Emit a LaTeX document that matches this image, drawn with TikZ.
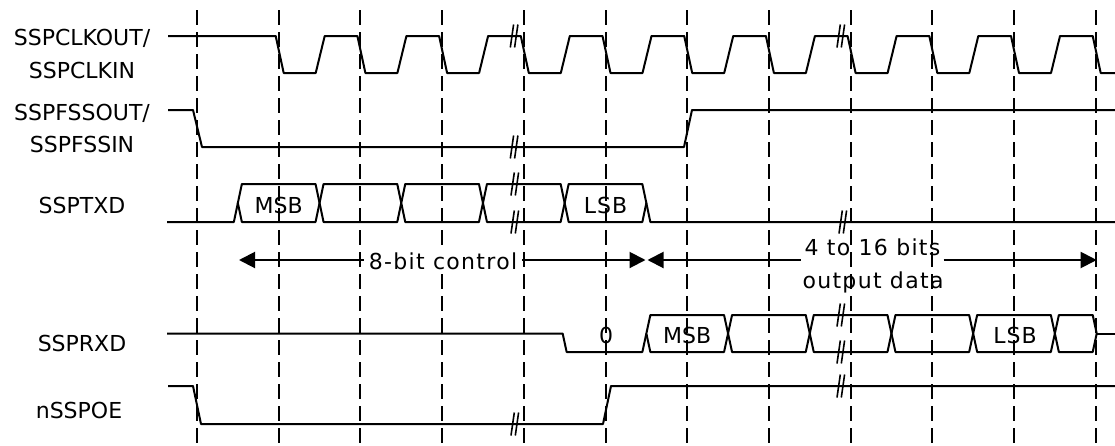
\documentclass[tikz,border=0pt]{standalone}
\usepackage{fontspec}
\setmainfont{DejaVu Sans}
\usetikzlibrary{arrows.meta}
\newcommand\brkmk[2]{%
  \draw[brk] ({#1-4},{#2+11.5}) -- ({#1-0.7},{#2-11.5});
  \draw[brk] ({#1+0.3},{#2+11.5}) -- ({#1+3.6},{#2-11.5});}
\newcommand\hexbox[4]{% left, right, top, bottom
  \draw[sig] ({#1},{(#3+#4)/2}) -- ({#1+4},#3) -- ({#2-4},#3) -- ({#2},{(#3+#4)/2})
    -- ({#2-4},#4) -- ({#1+4},#4) -- cycle;}
\begin{document}
\begin{tikzpicture}[x=1pt,y=-1pt,
  sig/.style={line width=2pt, line join=round},
  vdash/.style={line width=2pt, dash pattern=on 15pt off 7pt},
  brk/.style={line width=1.6pt},
  lbl/.style={font=\fontsize{22}{26}\selectfont, anchor=base, inner sep=0pt},
  wide/.style={font=\fontsize{22}{26}\selectfont\addfontfeature{LetterSpace=6}},
  arrline/.style={line width=2pt},
  >={Triangle[length=16pt,width=16pt]}
]
\useasboundingbox (0,0) rectangle (1115,445);
\fill[white] (0,0) rectangle (1115,445);

% dashed time lines
\foreach \k in {0,...,11}
  \draw[vdash] ({197+81.7*\k},10) -- ({197+81.7*\k},445);

% labels
\node[lbl] (lclk1) at (82,45) {SSPCLKOUT/};
\node[lbl] (lclk2) at (82,78.3) {SSPCLKIN};
\node[lbl] (lfss1) at (82,120) {SSPFSSOUT/};
\node[lbl] (lfss2) at (82,152) {SSPFSSIN};
\node[lbl] (ltxd) at (82,213.3) {SSPTXD};
\node[lbl] (lrxd) at (82,351.7) {SSPRXD};
\node[lbl] (loe) at (79,418.3) {nSSPOE};

% clock
\draw[sig] (168,36) -- ({197+81.7-3},36)
  foreach \k in {1,...,10}{
    -- ({197+81.7*\k+5},73) -- ({197+81.7*\k+37},73)
    -- ({197+81.7*\k+46},36) -- ({197+81.7*(\k+1)-3},36)}
  -- ({197+81.7*11+5},73) -- (1115,73);

% frame sync
\draw[sig] (168,110) -- (193,110) -- (202,147) -- (684,147) -- (692,110) -- (1115,110);

% TXD
\draw[sig] (167,222) -- (233.85,222) -- (237.85,203);
\foreach \i in {0,...,4}{\hexbox{237.85+81.7*\i}{237.85+81.7*(\i+1)}{184}{222}}
\draw[sig] (646.35,203) -- (650.35,222) -- (1115,222);
\node[lbl] (tmsb) at (278.7,213.3) {MSB};
\node[lbl] (tlsb) at (605.5,213.3) {L\kern1pt S\kern1pt B};

% RXD
\draw[sig] (167,333.5) -- (562.65,333.5) -- (566.65,352) -- (642.35,352) -- (646.35,333.5);
\foreach \i in {5,...,9}{\hexbox{237.85+81.7*\i}{237.85+81.7*(\i+1)}{315}{352}}
\hexbox{1054.85}{1096.7}{315}{352}
\draw[sig] (1096.7,333.5) -- (1115,333.5);
\node[lbl] (rzero) at (606,343.3) {0};
\node[lbl] (rmsb) at (687.2,343.3) {MSB};
\node[lbl] (rlsb) at (1015,343.3) {L\kern1pt S\kern1pt B};

% nSSPOE
\draw[sig] (168,386) -- (193,386) -- (201,424) -- (603,424) -- (611,386) -- (1115,386);

% break marks
\brkmk{514.3}{36}
\brkmk{841}{36}
\brkmk{514.3}{147}
\brkmk{515}{184}
\brkmk{515}{222}
\brkmk{843}{222}
\brkmk{841}{315}
\brkmk{841}{352}
\brkmk{515}{424}
\brkmk{841}{386}

% arrows
\coordinate (a1l) at (239,260);
\coordinate (a1r) at (645.5,260);
\coordinate (a2l) at (647.5,260);
\coordinate (a2r) at (1096.7,260);
\node[lbl, wide, inner xsep=5pt, fill=white] (t8) at (443,269) {8-bit control};
\node[lbl, wide, inner xsep=3pt] (t4) at (872.5,255) {4 to 16 bits};
\node[lbl, wide] (t4b) at (873,288) {output data};
\draw[arrline,<-] (a1l) -- (t8.west |- a1l);
\draw[arrline,->] (t8.east |- a1r) -- (a1r);
\draw[arrline,<-] (a2l) -- (t4.west |- a2l);
\draw[arrline,->] (t4.east |- a2r) -- (a2r);
\end{tikzpicture}
\end{document}
